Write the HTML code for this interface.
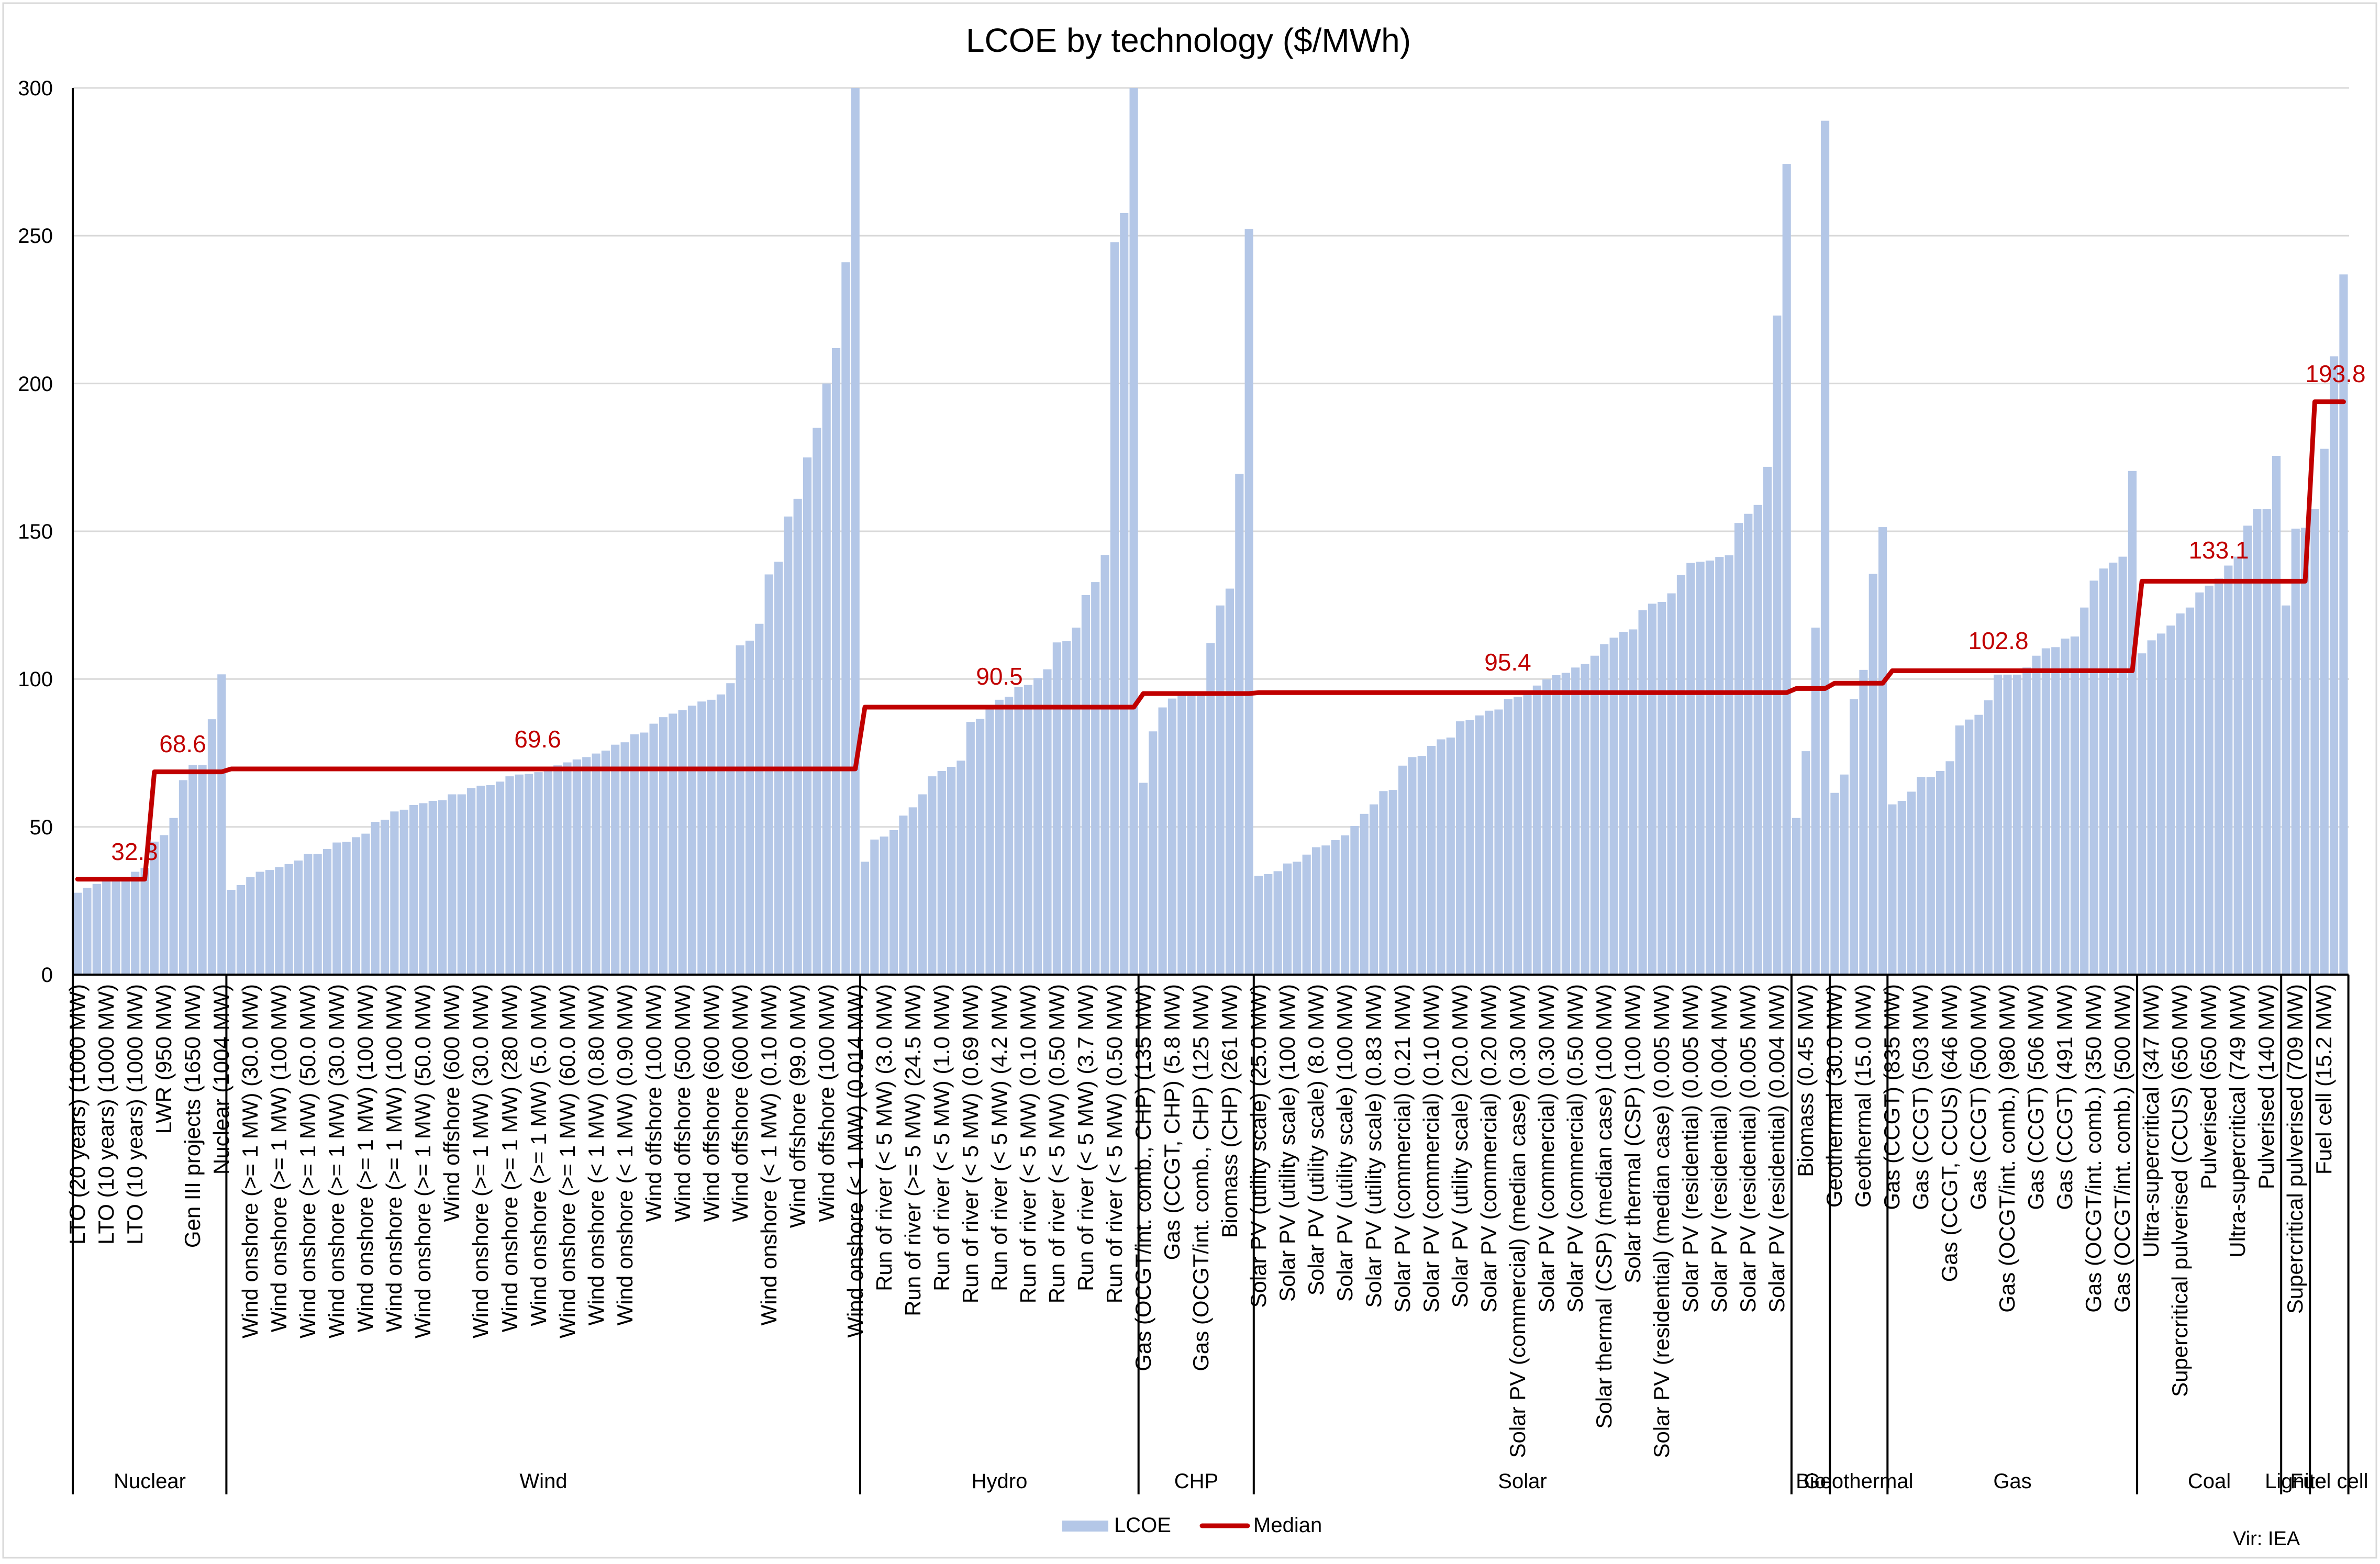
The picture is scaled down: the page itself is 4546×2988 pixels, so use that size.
<!DOCTYPE html>
<html><head><meta charset="utf-8"><style>
html,body{margin:0;padding:0;background:#fff;}
svg{display:block;font-family:"Liberation Sans",Arial,sans-serif;}
</style></head><body>
<svg width="4546" height="2988" viewBox="0 0 4546 2988" xmlns="http://www.w3.org/2000/svg">
<rect x="0" y="0" width="4546" height="2988" fill="#fff"/>
<rect x="6" y="6" width="4533" height="2970" fill="none" stroke="#d9d9d9" stroke-width="3"/>
<text x="2270" y="99" font-size="64" text-anchor="middle" fill="#000">LCOE by technology ($/MWh)</text>
<g stroke="#d9d9d9" stroke-width="3">
<line x1="139" y1="1579.7" x2="4487" y2="1579.7"/>
<line x1="139" y1="1297.3" x2="4487" y2="1297.3"/>
<line x1="139" y1="1015" x2="4487" y2="1015"/>
<line x1="139" y1="732.6" x2="4487" y2="732.6"/>
<line x1="139" y1="450.3" x2="4487" y2="450.3"/>
<line x1="139" y1="168" x2="4487" y2="168"/>
</g>
<g font-size="40" text-anchor="end" fill="#000">
<text x="101" y="1876">0</text>
<text x="101" y="1594">50</text>
<text x="101" y="1311">100</text>
<text x="101" y="1029">150</text>
<text x="101" y="747">200</text>
<text x="101" y="464">250</text>
<text x="101" y="182">300</text>
</g>
<g transform="translate(139,1862) scale(18.34,-5.6467)" fill="#b4c7e7">
<g id="bars">
<rect x="0.06" width="0.88" height="27.7"/><rect x="1.06" width="0.88" height="29.4"/><rect x="2.06" width="0.88" height="30.7"/><rect x="3.06" width="0.88" height="32"/><rect x="4.06" width="0.88" height="32.7"/><rect x="5.06" width="0.88" height="33"/><rect x="6.06" width="0.88" height="34.8"/><rect x="7.06" width="0.88" height="36.1"/><rect x="8.06" width="0.88" height="45"/><rect x="9.06" width="0.88" height="47.2"/><rect x="10.06" width="0.88" height="53"/><rect x="11.06" width="0.88" height="65.8"/><rect x="12.06" width="0.88" height="70.9"/><rect x="13.06" width="0.88" height="70.9"/><rect x="14.06" width="0.88" height="86.4"/><rect x="15.06" width="0.88" height="101.6"/>
<rect x="16.06" width="0.88" height="28.7"/><rect x="17.06" width="0.88" height="30.3"/><rect x="18.06" width="0.88" height="33"/><rect x="19.06" width="0.88" height="34.8"/><rect x="20.06" width="0.88" height="35.4"/><rect x="21.06" width="0.88" height="36.4"/><rect x="22.06" width="0.88" height="37.4"/><rect x="23.06" width="0.88" height="38.6"/><rect x="24.06" width="0.88" height="40.8"/><rect x="25.06" width="0.88" height="40.8"/><rect x="26.06" width="0.88" height="42.5"/><rect x="27.06" width="0.88" height="44.7"/><rect x="28.06" width="0.88" height="44.9"/><rect x="29.06" width="0.88" height="46.5"/><rect x="30.06" width="0.88" height="47.7"/><rect x="31.06" width="0.88" height="51.7"/><rect x="32.06" width="0.88" height="52.4"/><rect x="33.06" width="0.88" height="55.2"/><rect x="34.06" width="0.88" height="55.8"/><rect x="35.06" width="0.88" height="57.4"/><rect x="36.06" width="0.88" height="58"/><rect x="37.06" width="0.88" height="58.8"/><rect x="38.06" width="0.88" height="59"/><rect x="39.06" width="0.88" height="61"/><rect x="40.06" width="0.88" height="61"/><rect x="41.06" width="0.88" height="63.1"/><rect x="42.06" width="0.88" height="63.9"/><rect x="43.06" width="0.88" height="64.1"/><rect x="44.06" width="0.88" height="65.3"/><rect x="45.06" width="0.88" height="67.1"/><rect x="46.06" width="0.88" height="67.7"/><rect x="47.06" width="0.88" height="67.9"/><rect x="48.06" width="0.88" height="68.5"/><rect x="49.06" width="0.88" height="69.9"/><rect x="50.06" width="0.88" height="70.8"/><rect x="51.06" width="0.88" height="71.8"/><rect x="52.06" width="0.88" height="72.8"/><rect x="53.06" width="0.88" height="73.6"/><rect x="54.06" width="0.88" height="74.8"/><rect x="55.06" width="0.88" height="75.8"/><rect x="56.06" width="0.88" height="77.8"/><rect x="57.06" width="0.88" height="78.6"/><rect x="58.06" width="0.88" height="81.3"/><rect x="59.06" width="0.88" height="81.9"/><rect x="60.06" width="0.88" height="84.9"/><rect x="61.06" width="0.88" height="87.1"/><rect x="62.06" width="0.88" height="88.3"/><rect x="63.06" width="0.88" height="89.5"/><rect x="64.06" width="0.88" height="91"/><rect x="65.06" width="0.88" height="92.4"/><rect x="66.06" width="0.88" height="93"/><rect x="67.06" width="0.88" height="94.8"/><rect x="68.06" width="0.88" height="98.6"/><rect x="69.06" width="0.88" height="111.4"/><rect x="70.06" width="0.88" height="113"/><rect x="71.06" width="0.88" height="118.7"/><rect x="72.06" width="0.88" height="135.4"/><rect x="73.06" width="0.88" height="139.7"/><rect x="74.06" width="0.88" height="155"/><rect x="75.06" width="0.88" height="161"/><rect x="76.06" width="0.88" height="175"/><rect x="77.06" width="0.88" height="185"/><rect x="78.06" width="0.88" height="200"/><rect x="79.06" width="0.88" height="212"/><rect x="80.06" width="0.88" height="241"/><rect x="81.06" width="0.88" height="300"/>
<rect x="82.06" width="0.88" height="38.2"/><rect x="83.06" width="0.88" height="45.7"/><rect x="84.06" width="0.88" height="46.7"/><rect x="85.06" width="0.88" height="48.9"/><rect x="86.06" width="0.88" height="53.8"/><rect x="87.06" width="0.88" height="56.6"/><rect x="88.06" width="0.88" height="61"/><rect x="89.06" width="0.88" height="67.1"/><rect x="90.06" width="0.88" height="68.9"/><rect x="91.06" width="0.88" height="70.3"/><rect x="92.06" width="0.88" height="72.4"/><rect x="93.06" width="0.88" height="85.5"/><rect x="94.06" width="0.88" height="86.5"/><rect x="95.06" width="0.88" height="90"/><rect x="96.06" width="0.88" height="93"/><rect x="97.06" width="0.88" height="94"/><rect x="98.06" width="0.88" height="97.4"/><rect x="99.06" width="0.88" height="98"/><rect x="100.06" width="0.88" height="100.3"/><rect x="101.06" width="0.88" height="103.3"/><rect x="102.06" width="0.88" height="112.4"/><rect x="103.06" width="0.88" height="112.8"/><rect x="104.06" width="0.88" height="117.4"/><rect x="105.06" width="0.88" height="128.4"/><rect x="106.06" width="0.88" height="132.8"/><rect x="107.06" width="0.88" height="142"/><rect x="108.06" width="0.88" height="247.8"/><rect x="109.06" width="0.88" height="257.7"/><rect x="110.06" width="0.88" height="300"/>
<rect x="111.06" width="0.88" height="64.9"/><rect x="112.06" width="0.88" height="82.3"/><rect x="113.06" width="0.88" height="90.4"/><rect x="114.06" width="0.88" height="93.4"/><rect x="115.06" width="0.88" height="94.6"/><rect x="116.06" width="0.88" height="94.6"/><rect x="117.06" width="0.88" height="94.6"/><rect x="118.06" width="0.88" height="112.2"/><rect x="119.06" width="0.88" height="124.9"/><rect x="120.06" width="0.88" height="130.6"/><rect x="121.06" width="0.88" height="169.4"/><rect x="122.06" width="0.88" height="252.3"/>
<rect x="123.06" width="0.88" height="33.4"/><rect x="124.06" width="0.88" height="34"/><rect x="125.06" width="0.88" height="35"/><rect x="126.06" width="0.88" height="37.6"/><rect x="127.06" width="0.88" height="38.2"/><rect x="128.06" width="0.88" height="40.6"/><rect x="129.06" width="0.88" height="43.1"/><rect x="130.06" width="0.88" height="43.7"/><rect x="131.06" width="0.88" height="45.5"/><rect x="132.06" width="0.88" height="47.1"/><rect x="133.06" width="0.88" height="50.3"/><rect x="134.06" width="0.88" height="54.4"/><rect x="135.06" width="0.88" height="57.6"/><rect x="136.06" width="0.88" height="62.1"/><rect x="137.06" width="0.88" height="62.5"/><rect x="138.06" width="0.88" height="70.7"/><rect x="139.06" width="0.88" height="73.6"/><rect x="140.06" width="0.88" height="74"/><rect x="141.06" width="0.88" height="77.4"/><rect x="142.06" width="0.88" height="79.6"/><rect x="143.06" width="0.88" height="80.2"/><rect x="144.06" width="0.88" height="85.7"/><rect x="145.06" width="0.88" height="86.1"/><rect x="146.06" width="0.88" height="87.7"/><rect x="147.06" width="0.88" height="89.3"/><rect x="148.06" width="0.88" height="89.7"/><rect x="149.06" width="0.88" height="93.2"/><rect x="150.06" width="0.88" height="94"/><rect x="151.06" width="0.88" height="95.6"/><rect x="152.06" width="0.88" height="97.8"/><rect x="153.06" width="0.88" height="99.9"/><rect x="154.06" width="0.88" height="101.3"/><rect x="155.06" width="0.88" height="102.1"/><rect x="156.06" width="0.88" height="103.9"/><rect x="157.06" width="0.88" height="105.1"/><rect x="158.06" width="0.88" height="107.9"/><rect x="159.06" width="0.88" height="111.8"/><rect x="160.06" width="0.88" height="114"/><rect x="161.06" width="0.88" height="116"/><rect x="162.06" width="0.88" height="116.8"/><rect x="163.06" width="0.88" height="123.3"/><rect x="164.06" width="0.88" height="125.5"/><rect x="165.06" width="0.88" height="126.1"/><rect x="166.06" width="0.88" height="129"/><rect x="167.06" width="0.88" height="135.2"/><rect x="168.06" width="0.88" height="139.3"/><rect x="169.06" width="0.88" height="139.7"/><rect x="170.06" width="0.88" height="140.1"/><rect x="171.06" width="0.88" height="141.3"/><rect x="172.06" width="0.88" height="141.9"/><rect x="173.06" width="0.88" height="152.8"/><rect x="174.06" width="0.88" height="155.9"/><rect x="175.06" width="0.88" height="158.9"/><rect x="176.06" width="0.88" height="171.8"/><rect x="177.06" width="0.88" height="223"/><rect x="178.06" width="0.88" height="274.3"/>
<rect x="179.06" width="0.88" height="53"/><rect x="180.06" width="0.88" height="75.6"/><rect x="181.06" width="0.88" height="117.4"/><rect x="182.06" width="0.88" height="288.9"/>
<rect x="183.06" width="0.88" height="61.5"/><rect x="184.06" width="0.88" height="67.7"/><rect x="185.06" width="0.88" height="93.2"/><rect x="186.06" width="0.88" height="103.1"/><rect x="187.06" width="0.88" height="135.6"/><rect x="188.06" width="0.88" height="151.4"/>
<rect x="189.06" width="0.88" height="57.6"/><rect x="190.06" width="0.88" height="58.8"/><rect x="191.06" width="0.88" height="61.9"/><rect x="192.06" width="0.88" height="66.9"/><rect x="193.06" width="0.88" height="66.9"/><rect x="194.06" width="0.88" height="68.9"/><rect x="195.06" width="0.88" height="72.2"/><rect x="196.06" width="0.88" height="84.3"/><rect x="197.06" width="0.88" height="86.3"/><rect x="198.06" width="0.88" height="87.9"/><rect x="199.06" width="0.88" height="92.8"/><rect x="200.06" width="0.88" height="101.5"/><rect x="201.06" width="0.88" height="101.5"/><rect x="202.06" width="0.88" height="101.5"/><rect x="203.06" width="0.88" height="103.9"/><rect x="204.06" width="0.88" height="107.9"/><rect x="205.06" width="0.88" height="110.4"/><rect x="206.06" width="0.88" height="110.8"/><rect x="207.06" width="0.88" height="113.7"/><rect x="208.06" width="0.88" height="114.4"/><rect x="209.06" width="0.88" height="124.2"/><rect x="210.06" width="0.88" height="133.3"/><rect x="211.06" width="0.88" height="137.4"/><rect x="212.06" width="0.88" height="139.4"/><rect x="213.06" width="0.88" height="141.4"/><rect x="214.06" width="0.88" height="170.4"/>
<rect x="215.06" width="0.88" height="108.7"/><rect x="216.06" width="0.88" height="113.1"/><rect x="217.06" width="0.88" height="115.4"/><rect x="218.06" width="0.88" height="118.1"/><rect x="219.06" width="0.88" height="122.2"/><rect x="220.06" width="0.88" height="124.2"/><rect x="221.06" width="0.88" height="129.3"/><rect x="222.06" width="0.88" height="131.6"/><rect x="223.06" width="0.88" height="134"/><rect x="224.06" width="0.88" height="138.4"/><rect x="225.06" width="0.88" height="141.4"/><rect x="226.06" width="0.88" height="151.9"/><rect x="227.06" width="0.88" height="157.6"/><rect x="228.06" width="0.88" height="157.6"/><rect x="229.06" width="0.88" height="175.5"/>
<rect x="230.06" width="0.88" height="124.9"/><rect x="231.06" width="0.88" height="150.9"/><rect x="232.06" width="0.88" height="151.2"/>
<rect x="233.06" width="0.88" height="157.6"/><rect x="234.06" width="0.88" height="177.9"/><rect x="235.06" width="0.88" height="209.2"/><rect x="236.06" width="0.88" height="236.9"/>
</g>
<polyline fill="none" stroke="#c00000" stroke-width="9" stroke-linejoin="round" stroke-linecap="round" vector-effect="non-scaling-stroke" points="0.5,32.3 7.5,32.3 8.5,68.6 15.5,68.6 16.5,69.6 81.5,69.6 82.5,90.5 110.5,90.5 111.5,95.1 122.5,95.1 123.5,95.4 178.5,95.4 179.5,96.8 182.5,96.8 183.5,98.6 188.5,98.6 189.5,102.8 214.5,102.8 215.5,133.1 232.5,133.1 233.5,193.8 236.5,193.8"/>
</g>
<g font-size="46" fill="#c00000" text-anchor="middle">
<text x="257" y="1643">32.3</text>
<text x="349" y="1437">68.6</text>
<text x="1027" y="1428">69.6</text>
<text x="1909" y="1308">90.5</text>
<text x="2880" y="1281">95.4</text>
<text x="3817" y="1240">102.8</text>
<text x="4238" y="1067">133.1</text>
<text x="4461" y="730">193.8</text>
</g>
<g stroke="#000" stroke-width="4">
<line x1="139" y1="168" x2="139" y2="2855"/>
<line x1="139" y1="1862" x2="4486" y2="1862"/>
<line x1="432.4" y1="1862" x2="432.4" y2="2855"/>
<line x1="1642.9" y1="1862" x2="1642.9" y2="2855"/>
<line x1="2174.7" y1="1862" x2="2174.7" y2="2855"/>
<line x1="2394.8" y1="1862" x2="2394.8" y2="2855"/>
<line x1="3421.9" y1="1862" x2="3421.9" y2="2855"/>
<line x1="3495.2" y1="1862" x2="3495.2" y2="2855"/>
<line x1="3605.3" y1="1862" x2="3605.3" y2="2855"/>
<line x1="4082.1" y1="1862" x2="4082.1" y2="2855"/>
<line x1="4357.2" y1="1862" x2="4357.2" y2="2855"/>
<line x1="4412.2" y1="1862" x2="4412.2" y2="2855"/>
<line x1="4485.6" y1="1862" x2="4485.6" y2="2855"/>
</g>
<g transform="rotate(-90)" font-size="42" text-anchor="end" fill="#000">
<text x="-1880" y="162">LTO (20 years) (1000 MW)</text>
<text x="-1880" y="217">LTO (10 years) (1000 MW)</text>
<text x="-1880" y="272">LTO (10 years) (1000 MW)</text>
<text x="-1880" y="327">LWR (950 MW)</text>
<text x="-1880" y="382">Gen III projects (1650 MW)</text>
<text x="-1880" y="437">Nuclear (1004 MW)</text>
<text x="-1880" y="492">Wind onshore (&gt;= 1 MW) (30.0 MW)</text>
<text x="-1880" y="547">Wind onshore (&gt;= 1 MW) (100 MW)</text>
<text x="-1880" y="602">Wind onshore (&gt;= 1 MW) (50.0 MW)</text>
<text x="-1880" y="657">Wind onshore (&gt;= 1 MW) (30.0 MW)</text>
<text x="-1880" y="712">Wind onshore (&gt;= 1 MW) (100 MW)</text>
<text x="-1880" y="767">Wind onshore (&gt;= 1 MW) (100 MW)</text>
<text x="-1880" y="822">Wind onshore (&gt;= 1 MW) (50.0 MW)</text>
<text x="-1880" y="877">Wind offshore (600 MW)</text>
<text x="-1880" y="932">Wind onshore (&gt;= 1 MW) (30.0 MW)</text>
<text x="-1880" y="988">Wind onshore (&gt;= 1 MW) (280 MW)</text>
<text x="-1880" y="1043">Wind onshore (&gt;= 1 MW) (5.0 MW)</text>
<text x="-1880" y="1098">Wind onshore (&gt;= 1 MW) (60.0 MW)</text>
<text x="-1880" y="1153">Wind onshore (&lt; 1 MW) (0.80 MW)</text>
<text x="-1880" y="1208">Wind onshore (&lt; 1 MW) (0.90 MW)</text>
<text x="-1880" y="1263">Wind offshore (100 MW)</text>
<text x="-1880" y="1318">Wind offshore (500 MW)</text>
<text x="-1880" y="1373">Wind offshore (600 MW)</text>
<text x="-1880" y="1428">Wind offshore (600 MW)</text>
<text x="-1880" y="1483">Wind onshore (&lt; 1 MW) (0.10 MW)</text>
<text x="-1880" y="1538">Wind offshore (99.0 MW)</text>
<text x="-1880" y="1593">Wind offshore (100 MW)</text>
<text x="-1880" y="1648">Wind onshore (&lt; 1 MW) (0.014 MW)</text>
<text x="-1880" y="1703">Run of river (&lt; 5 MW) (3.0 MW)</text>
<text x="-1880" y="1758">Run of river (&gt;= 5 MW) (24.5 MW)</text>
<text x="-1880" y="1813">Run of river (&lt; 5 MW) (1.0 MW)</text>
<text x="-1880" y="1868">Run of river (&lt; 5 MW) (0.69 MW)</text>
<text x="-1880" y="1923">Run of river (&lt; 5 MW) (4.2 MW)</text>
<text x="-1880" y="1978">Run of river (&lt; 5 MW) (0.10 MW)</text>
<text x="-1880" y="2033">Run of river (&lt; 5 MW) (0.50 MW)</text>
<text x="-1880" y="2088">Run of river (&lt; 5 MW) (3.7 MW)</text>
<text x="-1880" y="2143">Run of river (&lt; 5 MW) (0.50 MW)</text>
<text x="-1880" y="2198">Gas (OCGT/int. comb., CHP) (135 MW)</text>
<text x="-1880" y="2253">Gas (CCGT, CHP) (5.8 MW)</text>
<text x="-1880" y="2308">Gas (OCGT/int. comb., CHP) (125 MW)</text>
<text x="-1880" y="2363">Biomass (CHP) (261 MW)</text>
<text x="-1880" y="2418">Solar PV (utility scale) (25.0 MW)</text>
<text x="-1880" y="2473">Solar PV (utility scale) (100 MW)</text>
<text x="-1880" y="2528">Solar PV (utility scale) (8.0 MW)</text>
<text x="-1880" y="2583">Solar PV (utility scale) (100 MW)</text>
<text x="-1880" y="2638">Solar PV (utility scale) (0.83 MW)</text>
<text x="-1880" y="2693">Solar PV (commercial) (0.21 MW)</text>
<text x="-1880" y="2748">Solar PV (commercial) (0.10 MW)</text>
<text x="-1880" y="2803">Solar PV (utility scale) (20.0 MW)</text>
<text x="-1880" y="2858">Solar PV (commercial) (0.20 MW)</text>
<text x="-1880" y="2913">Solar PV (commercial) (median case) (0.30 MW)</text>
<text x="-1880" y="2968">Solar PV (commercial) (0.30 MW)</text>
<text x="-1880" y="3023">Solar PV (commercial) (0.50 MW)</text>
<text x="-1880" y="3078">Solar thermal (CSP) (median case) (100 MW)</text>
<text x="-1880" y="3133">Solar thermal (CSP) (100 MW)</text>
<text x="-1880" y="3188">Solar PV (residential) (median case) (0.005 MW)</text>
<text x="-1880" y="3243">Solar PV (residential) (0.005 MW)</text>
<text x="-1880" y="3298">Solar PV (residential) (0.004 MW)</text>
<text x="-1880" y="3353">Solar PV (residential) (0.005 MW)</text>
<text x="-1880" y="3408">Solar PV (residential) (0.004 MW)</text>
<text x="-1880" y="3463">Biomass (0.45 MW)</text>
<text x="-1880" y="3518">Geothermal (30.0 MW)</text>
<text x="-1880" y="3573">Geothermal (15.0 MW)</text>
<text x="-1880" y="3628">Gas (CCGT) (835 MW)</text>
<text x="-1880" y="3683">Gas (CCGT) (503 MW)</text>
<text x="-1880" y="3738">Gas (CCGT, CCUS) (646 MW)</text>
<text x="-1880" y="3793">Gas (CCGT) (500 MW)</text>
<text x="-1880" y="3848">Gas (OCGT/int. comb.) (980 MW)</text>
<text x="-1880" y="3903">Gas (CCGT) (506 MW)</text>
<text x="-1880" y="3958">Gas (CCGT) (491 MW)</text>
<text x="-1880" y="4013">Gas (OCGT/int. comb.) (350 MW)</text>
<text x="-1880" y="4068">Gas (OCGT/int. comb.) (500 MW)</text>
<text x="-1880" y="4123">Ultra-supercritical (347 MW)</text>
<text x="-1880" y="4178">Supercritical pulverised (CCUS) (650 MW)</text>
<text x="-1880" y="4233">Pulverised (650 MW)</text>
<text x="-1880" y="4288">Ultra-supercritical (749 MW)</text>
<text x="-1880" y="4343">Pulverised (140 MW)</text>
<text x="-1880" y="4398">Supercritical pulverised (709 MW)</text>
<text x="-1880" y="4453">Fuel cell (15.2 MW)</text>
</g>
<g font-size="40" text-anchor="middle" fill="#000">
<text x="286" y="2843">Nuclear</text>
<text x="1038" y="2843">Wind</text>
<text x="1909" y="2843">Hydro</text>
<text x="2285" y="2843">CHP</text>
<text x="2908" y="2843">Solar</text>
<text x="3459" y="2843">Bio</text>
<text x="3550" y="2843">Geothermal</text>
<text x="3844" y="2843">Gas</text>
<text x="4220" y="2843">Coal</text>
<text x="4385" y="2843">Lignite</text>
<text x="4449" y="2843">Fuel cell</text>
</g>
<rect x="2029" y="2905" width="88" height="21" fill="#b4c7e7"/>
<text x="2128" y="2927" font-size="40" fill="#000">LCOE</text>
<line x1="2296" y1="2915" x2="2383" y2="2915" stroke="#c00000" stroke-width="9" stroke-linecap="round"/>
<text x="2394" y="2927" font-size="40" fill="#000">Median</text>
<text x="4265" y="2952" font-size="38" fill="#000">Vir: IEA</text>
</svg>
</body></html>
